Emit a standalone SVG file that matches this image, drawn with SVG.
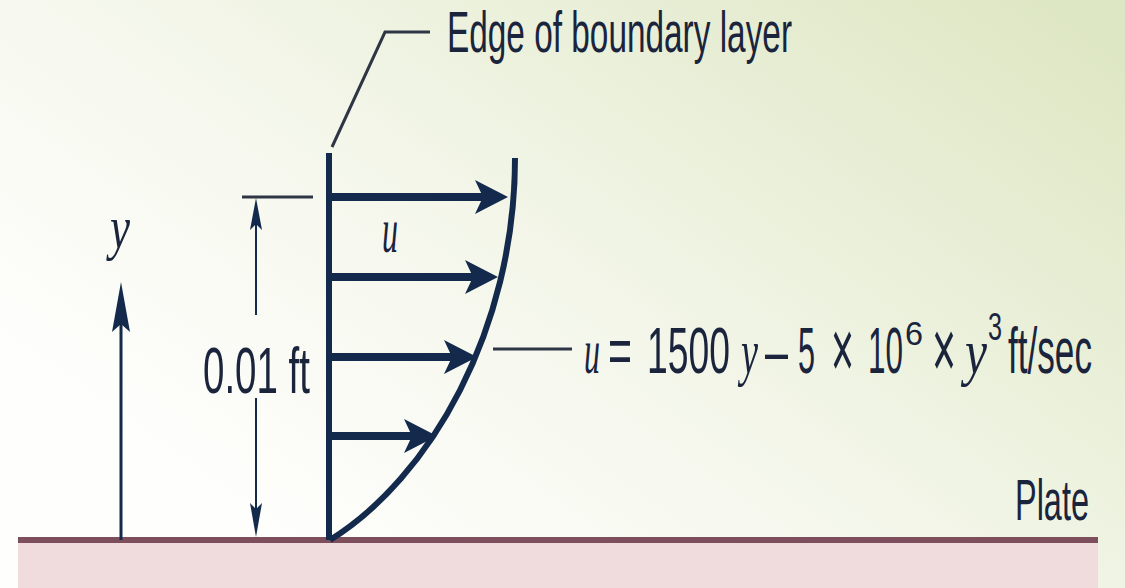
<svg xmlns="http://www.w3.org/2000/svg" width="1125" height="588" viewBox="0 0 1125 588">
<defs>
<linearGradient id="bg" x1="0.12" y1="0.75" x2="1" y2="0.1">
<stop offset="0" stop-color="#fefefc"/>
<stop offset="0.35" stop-color="#f6f8ee"/>
<stop offset="1" stop-color="#dee7c4"/>
</linearGradient>
<style>
.sans{font-family:"Liberation Sans",Arial,sans-serif;fill:#1a243c;}
.it{font-family:"Liberation Serif","Times New Roman",serif;font-style:italic;fill:#1a243c;}
.navy{stroke:#142a4c;fill:none;}
.lead{stroke:#2e3645;fill:none;stroke-width:3;}
.head{fill:#142a4c;}
</style>
</defs>
<rect x="0" y="0" width="1125" height="588" fill="url(#bg)"/>
<g id="plate">
<rect x="18" y="540" width="1080" height="48" fill="#f0dcdc"/>
<rect x="18" y="537" width="1080" height="6" fill="#7d4f5c"/>
<text class="sans" x="1015" y="520" font-size="58" textLength="74" lengthAdjust="spacingAndGlyphs">Plate</text>
</g>
<g id="y-axis">
<line class="navy" x1="121" y1="540" x2="121" y2="320" stroke-width="3"/>
<path class="head" d="M121,282 L130,332 L121,324 L112,332 Z"/>
<text class="it" x="110" y="248" font-size="62" textLength="20" lengthAdjust="spacingAndGlyphs">y</text>
</g>
<g id="dimension">
<line class="lead" x1="242" y1="197" x2="313" y2="197"/>
<line class="navy" x1="256" y1="220" x2="256" y2="315" stroke-width="2"/>
<path class="head" d="M256,198 L262,230 L256,224 L250,230 Z"/>
<line class="navy" x1="256" y1="398" x2="256" y2="515" stroke-width="2"/>
<path class="head" d="M256,537 L262,503 L256,509 L250,503 Z"/>
<text class="sans" x="203" y="393" font-size="64" textLength="107" lengthAdjust="spacingAndGlyphs">0.01 ft</text>
</g>
<g id="profile">
<line class="navy" x1="329" y1="153" x2="329" y2="540" stroke-width="6"/>
<path class="navy" d="M330,540 C430,478 515,330 515,158" stroke-width="6"/>
</g>
<g id="velocity-arrows">
<line class="navy" x1="331" y1="197" x2="486" y2="197" stroke-width="8"/>
<path class="head" d="M508,197 L475,180 L483,197 L475,214 Z"/>
<line class="navy" x1="331" y1="277" x2="476" y2="277" stroke-width="8"/>
<path class="head" d="M498,277 L465,260 L473,277 L465,294 Z"/>
<line class="navy" x1="331" y1="357" x2="455" y2="357" stroke-width="8"/>
<path class="head" d="M477,357 L444,340 L452,357 L444,374 Z"/>
<line class="navy" x1="331" y1="436" x2="415" y2="436" stroke-width="8"/>
<path class="head" d="M437,436 L404,419 L412,436 L404,453 Z"/>
<text class="it" x="382" y="252" font-size="64" textLength="16" lengthAdjust="spacingAndGlyphs">u</text>
</g>
<g id="edge-label">
<path class="lead" d="M332,147 L385,32 L430,32"/>
<text class="sans" x="447" y="52" font-size="58" textLength="345" lengthAdjust="spacingAndGlyphs">Edge of boundary layer</text>
</g>
<g id="equation">
<line class="lead" x1="493" y1="349" x2="572" y2="349"/>
<text class="it" x="584" y="373" font-size="64" textLength="16" lengthAdjust="spacingAndGlyphs">u</text>
<text class="sans" x="608" y="373" font-size="64" textLength="24" lengthAdjust="spacingAndGlyphs">=</text>
<text class="sans" x="647" y="373" font-size="64" textLength="83" lengthAdjust="spacingAndGlyphs">1500</text>
<text class="it" x="741" y="373" font-size="64" textLength="17" lengthAdjust="spacingAndGlyphs">y</text>
<text class="sans" x="765" y="373" font-size="64" textLength="23" lengthAdjust="spacingAndGlyphs">–</text>
<text class="sans" x="798" y="373" font-size="64" textLength="17" lengthAdjust="spacingAndGlyphs">5</text>
<text class="sans" x="831" y="378" font-size="84" textLength="23" lengthAdjust="spacingAndGlyphs">×</text>
<text class="sans" x="868" y="373" font-size="64" textLength="35" lengthAdjust="spacingAndGlyphs">10</text>
<text class="sans" x="905" y="345" font-size="34" textLength="18" lengthAdjust="spacingAndGlyphs">6</text>
<text class="sans" x="932" y="378" font-size="84" textLength="24" lengthAdjust="spacingAndGlyphs">×</text>
<text class="it" x="965" y="373" font-size="64" textLength="22" lengthAdjust="spacingAndGlyphs">y</text>
<text class="sans" x="988" y="340" font-size="38" textLength="14" lengthAdjust="spacingAndGlyphs">3</text>
<text class="sans" x="1008" y="373" font-size="64" textLength="84" lengthAdjust="spacingAndGlyphs">ft/sec</text>
</g>
</svg>
